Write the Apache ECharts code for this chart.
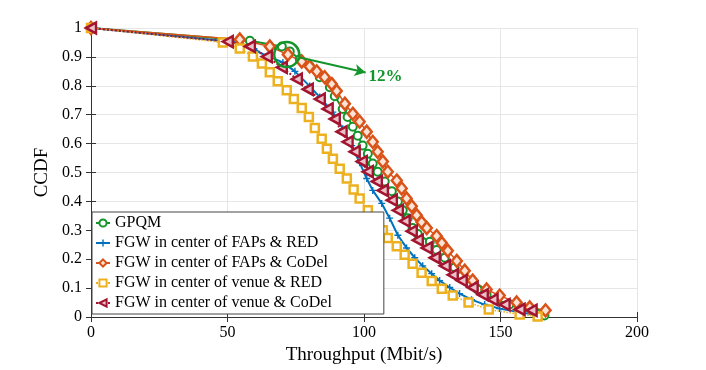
<!DOCTYPE html>
<html>
<head>
<meta charset="utf-8">
<script src="https://cdn.jsdelivr.net/npm/echarts@6/dist/echarts.min.js"></script>
<style>html,body{margin:0;padding:0;background:#fff;}#c{width:706px;height:370px;}</style>
</head>
<body>
<div id="c"></div>
<script>
// ---- Data ----
const seriesNames = [
  'GPQM',
  'FGW in center of FAPs & RED',
  'FGW in center of FAPs & CoDel',
  'FGW in center of venue & RED',
  'FGW in center of venue & CoDel'
];
const xGPQM = [0,58.2,69.9,72.8,76.5,80.1,83.8,87.5,89.3,92.2,94.0,95.9,97.7,99.5,101.4,103.2,105.0,107.6,110.2,112.4,114.2,116.0,117.8,119.7,124.1,126.6,129.6,133.2,135.8,138.7,141.6,144.9,148.6,153.3,158.1,163.2,166.1];
const yGPQM = [1,0.956,0.936,0.919,0.892,0.868,0.830,0.795,0.764,0.720,0.692,0.658,0.627,0.593,0.565,0.531,0.503,0.469,0.435,0.400,0.369,0.342,0.308,0.287,0.260,0.232,0.205,0.171,0.143,0.115,0.095,0.077,0.060,0.043,0.029,0.012,0.005];
const xFapRed = [0,54.5,60.7,70.3,74.7,80.1,83.8,88.6,92.2,95.5,98.4,101.0,103.2,106.5,109.4,112.4,115.6,118.6,121.5,124.8,127.7,131.4,135.0,139.4,144.2,149.7,157.0,162.5];
const yFapRed = [1,0.950,0.919,0.881,0.850,0.799,0.761,0.709,0.651,0.593,0.534,0.479,0.438,0.393,0.342,0.283,0.239,0.205,0.177,0.150,0.126,0.102,0.081,0.060,0.043,0.029,0.016,0.009];
const xFapCoDel = [0,54.5,65.5,72.1,77.2,80.1,82.7,85.6,88.2,90.0,93.0,95.9,98.4,101.0,103.2,105.0,106.9,108.7,112.0,113.8,115.6,117.5,119.3,121.1,123.0,126.6,128.5,130.7,134.0,136.9,139.8,144.9,149.7,155.9,160.7,166.5];
const yFapCoDel = [1,0.960,0.936,0.908,0.884,0.867,0.850,0.830,0.806,0.782,0.738,0.703,0.676,0.641,0.606,0.572,0.538,0.503,0.472,0.445,0.410,0.383,0.352,0.328,0.308,0.280,0.256,0.229,0.194,0.160,0.126,0.095,0.074,0.050,0.033,0.023];
const xVenueRed = [0,48.3,54.5,59.3,62.6,65.5,68.4,71.7,74.3,77.2,79.8,82.0,84.5,86.4,88.6,91.1,93.7,96.2,98.4,101.4,104.3,106.9,108.7,112.0,114.9,117.8,121.1,124.8,128.5,132.5,138.3,145.7,157.0,163.6];
const yVenueRed = [1,0.950,0.929,0.901,0.877,0.847,0.816,0.785,0.754,0.723,0.692,0.654,0.617,0.582,0.548,0.513,0.479,0.441,0.410,0.369,0.335,0.300,0.273,0.245,0.215,0.184,0.153,0.125,0.098,0.074,0.050,0.026,0.009,0.002];
const xVenueCoDel = [0,50.1,58.2,64.4,69.9,75.4,79.4,83.8,86.7,89.3,91.8,94.0,96.6,99.2,101.4,104.7,106.9,110.2,112.4,114.9,117.5,119.7,123.0,125.9,129.6,132.5,135.8,139.8,143.5,147.1,151.5,157.0,161.4];
const yVenueCoDel = [1,0.953,0.936,0.901,0.864,0.823,0.788,0.754,0.720,0.685,0.641,0.606,0.572,0.538,0.503,0.469,0.438,0.404,0.369,0.332,0.297,0.266,0.239,0.205,0.177,0.146,0.126,0.102,0.077,0.060,0.043,0.026,0.023];
const xTicks = [0, 50, 100, 150, 200];
const yTicks = [0,0.1,0.2,0.3,0.4,0.5,0.6,0.7,0.8,0.9,1];
// annotation (data coordinates)
const annoCircle = [71.7, 0.908];
const annoArrowFrom = [76.5, 0.898];
const annoArrowTo = [100.6, 0.846];
const annoTextAt = [101.5, 0.832];
const annoText = '12%';

const zip = (xs, ys) => xs.map((x, i) => [x, ys[i]]);
const FONT = '"Liberation Serif", "Times New Roman", serif';
const C = { green: '#13952b', blue: '#0072BD', orange: '#D95319', yellow: '#EDB120', red: '#A2142F' };

const chart = echarts.init(document.getElementById('c'), null, { renderer: 'canvas' });
const axisCommon = {
  axisLine: { show: true, lineStyle: { color: '#333', width: 1 } },
  axisTick: { show: true, inside: true, length: 5, lineStyle: { color: '#333' } },
};
chart.setOption({
  animation: false,
  backgroundColor: '#fff',
  grid: { left: 91, right: 69, top: 28, bottom: 50, containLabel: false },
  xAxis: [{
    type: 'value', min: 0, max: 200, interval: 50, position: 'bottom',
    name: 'Throughput (Mbit/s)', nameLocation: 'middle', nameGap: 29,
    nameTextStyle: { fontFamily: FONT, fontSize: 19, color: '#000' },
    axisLabel: { fontFamily: FONT, fontSize: 16, color: '#000', margin: 8 },
    splitLine: { show: true, lineStyle: { color: '#e6e6e6', width: 1 } },
    ...axisCommon
  }, {
    type: 'value', min: 0, max: 200, interval: 50, position: 'top',
    axisLabel: { show: false }, splitLine: { show: false }, ...axisCommon
  }],
  yAxis: [{
    type: 'value', min: 0, max: 1, interval: 0.1, position: 'left',
    name: 'CCDF', nameLocation: 'middle', nameGap: 36,
    nameTextStyle: { fontFamily: FONT, fontSize: 19, color: '#000' },
    axisLabel: { fontFamily: FONT, fontSize: 16, color: '#000', margin: 9,
      formatter: v => String(+v.toFixed(1)) },
    splitLine: { show: true, lineStyle: { color: '#e6e6e6', width: 1 } },
    ...axisCommon
  }, {
    type: 'value', min: 0, max: 1, interval: 0.1, position: 'right',
    axisLabel: { show: false }, splitLine: { show: false }, ...axisCommon
  }],
  legend: {
    data: seriesNames,
    orient: 'vertical', left: 92, top: 212,
    padding: [3, 52, 3, 3], itemGap: 4, itemWidth: 14, itemHeight: 9,
    backgroundColor: '#fff', borderColor: '#444', borderWidth: 1,
    textStyle: { fontFamily: FONT, fontSize: 16, lineHeight: 16, height: 16, color: '#000', padding: [0,0,0,0] },
    z: 10
  },
  series: [
    {
      name: seriesNames[0], type: 'line', data: zip(xGPQM, yGPQM),
      symbol: 'circle', symbolSize: 8, showAllSymbol: true,
      lineStyle: { color: C.green, width: 2 },
      itemStyle: { color: '#fff', borderColor: C.green, borderWidth: 2 },
      markLine: {
        silent: true, symbol: ['none', 'arrow'], symbolSize: [9, 11],
        lineStyle: { color: C.green, width: 2, type: 'solid' },
        label: { show: false },
        data: [[{ coord: annoArrowFrom }, { coord: annoArrowTo }]]
      },
      markPoint: {
        silent: true,
        data: [
          { coord: annoCircle, symbol: 'circle', symbolSize: 25,
            itemStyle: { color: 'rgba(0,0,0,0)', borderColor: C.green, borderWidth: 2.5 },
            label: { show: false } },
          { coord: annoTextAt, symbol: 'circle', symbolSize: 1,
            itemStyle: { color: 'rgba(0,0,0,0)' },
            label: { show: true, position: 'right', distance: 0, formatter: annoText,
              fontFamily: FONT, fontWeight: 'bold', fontSize: 17, color: C.green } }
        ]
      }
    },
    {
      name: seriesNames[1], type: 'line', data: zip(xFapRed, yFapRed),
      symbol: 'path://M4,0 L6,0 L6,4 L10,4 L10,6 L6,6 L6,10 L4,10 L4,6 L0,6 L0,4 L4,4 Z',
      symbolSize: 7, showAllSymbol: true,
      lineStyle: { color: C.blue, width: 2 },
      itemStyle: { color: C.blue }
    },
    {
      name: seriesNames[2], type: 'line', data: zip(xFapCoDel, yFapCoDel),
      symbol: 'diamond', symbolSize: [10, 12], showAllSymbol: true,
      lineStyle: { color: C.orange, width: 1.5 },
      itemStyle: { color: '#fbe3d6', borderColor: C.orange, borderWidth: 2.5 }
    },
    {
      name: seriesNames[3], type: 'line', data: zip(xVenueRed, yVenueRed),
      symbol: 'rect', symbolSize: 8, showAllSymbol: true,
      lineStyle: { color: C.yellow, width: 1.5, type: 'dotted' },
      itemStyle: { color: '#fff', borderColor: C.yellow, borderWidth: 2.5 }
    },
    {
      name: seriesNames[4], type: 'line', data: zip(xVenueCoDel, yVenueCoDel),
      symbol: 'path://M0,5 L9,0 L9,10 Z', symbolSize: [10, 11], showAllSymbol: true,
      lineStyle: { color: C.red, width: 2, type: 'dotted' },
      itemStyle: { color: '#e9c3ca', borderColor: C.red, borderWidth: 2.5 }
    }
  ]
});
</script>
</body>
</html>
